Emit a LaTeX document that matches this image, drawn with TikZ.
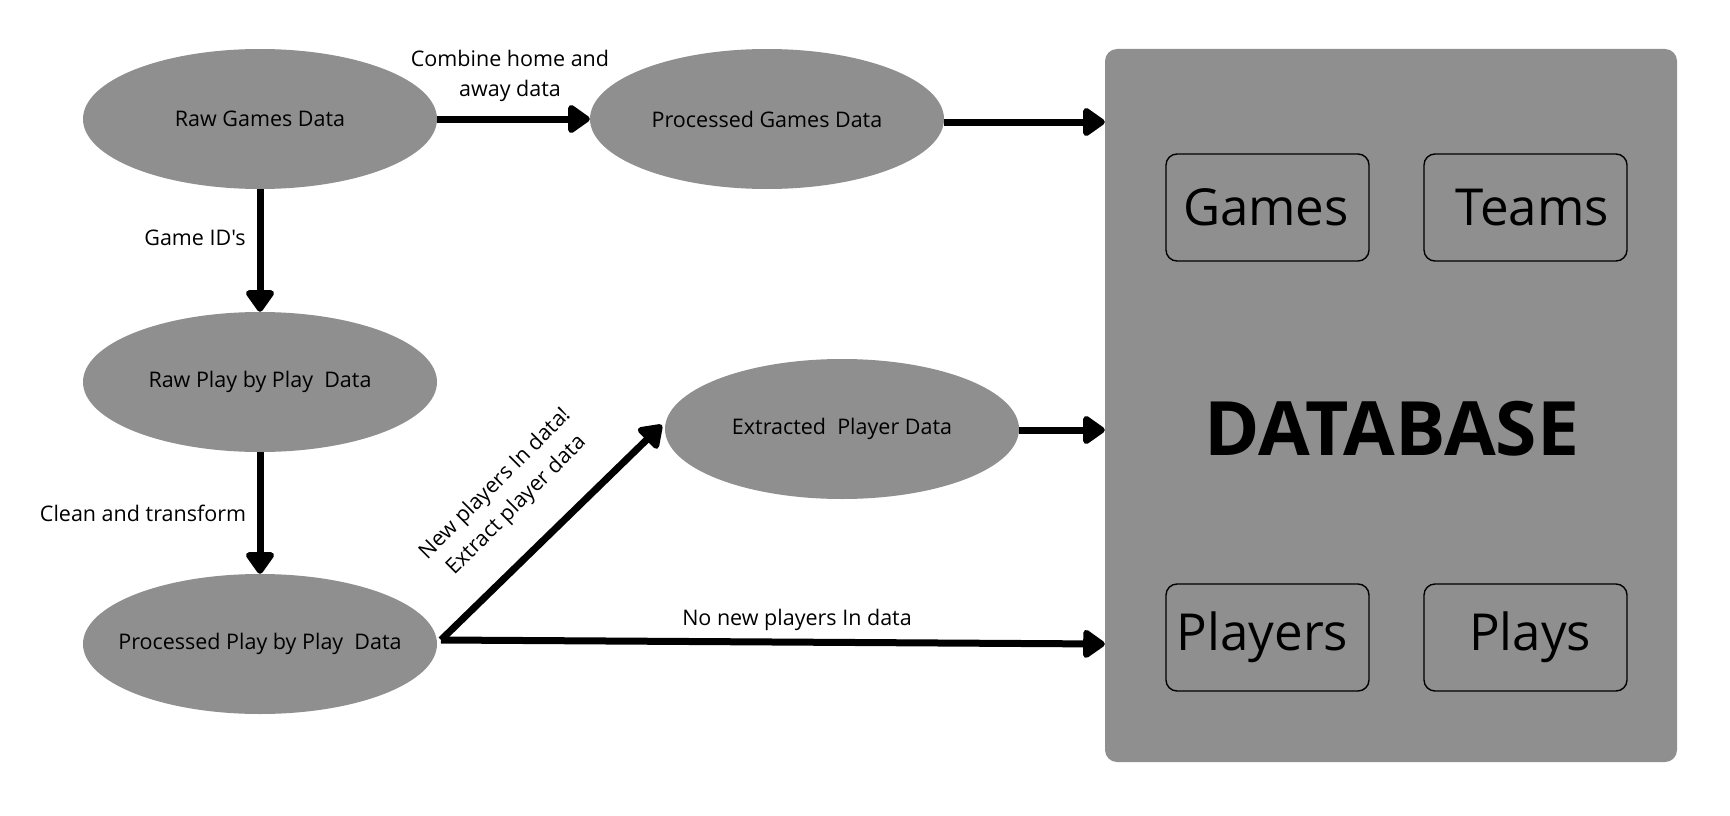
\documentclass[tikz,border=0pt]{standalone}
\usepackage{fontspec}
\setmainfont{Open Sans}[Ligatures=TeXOff]
\usetikzlibrary{shapes.geometric,arrows.meta,calc}
\definecolor{fillgray}{HTML}{8F8F8F}
\begin{document}
\begin{tikzpicture}[x=1pt,y=-1pt,
  blob/.style={ellipse,fill=fillgray,minimum width=354pt,minimum height=140pt,inner sep=0pt,font=\fontsize{21.5}{25}\selectfont},
  tbl/.style={draw=black,line width=1.4pt,rounded corners=11pt,minimum width=203pt,minimum height=107pt,inner sep=0pt,font=\fontsize{51}{55}\selectfont},
  flow/.style={line width=7pt,-{Triangle[length=24pt,width=32pt,round]}},
  lbl/.style={font=\fontsize{21.5}{30}\selectfont,align=center,inner sep=0pt}]
\useasboundingbox (0,0) rectangle (1730,816);
% database panel
\node[fill=fillgray,rounded corners=12pt,minimum width=572pt,minimum height=713pt,inner sep=0pt] (db) at (1391,405.5) {};
\node[font=\bfseries\fontsize{75}{80}\selectfont,inner sep=0pt] (dbt) at (1392,429) {DATABASE};
\node[tbl] (games) at (1267.5,207.5) {\makebox[0pt]{\hspace{-3pt}Games}};
\node[tbl] (teams) at (1525.5,207.5) {\makebox[0pt]{\hspace{13.5pt}Teams}};
\node[tbl] (players) at (1267.5,637.5) {\makebox[0pt]{\hspace{-10pt}Players}};
\node[tbl] (plays) at (1525.5,637.5) {\makebox[0pt]{\hspace{9.5pt}Plays}};
% process ellipses
\node[blob] (rg) at (260,119) {\makebox[0pt]{Raw Games Data}};
\node[blob] (pg) at (767,119) {\makebox[0pt]{Processed Games Data}};
\node[blob] (rp) at (260,382) {\makebox[0pt]{Raw Play by Play\ \ Data}};
\node[blob] (pp) at (260,644) {\makebox[0pt]{Processed Play by Play\ \ Data}};
\node[blob] (ex) at (842,429) {\makebox[0pt]{Extracted\ \ Player Data}};
% connector anchors
\coordinate (br) at (441,640);
\coordinate (dbg) at (db.west |- 0,122);
\coordinate (dbe) at (db.west |- 0,430);
\coordinate (dbp) at (db.west |- 0,644);
\coordinate (pgo) at (pg.east |- 0,122);
\coordinate (exo) at (ex.east |- 0,430);
\coordinate (exi) at ($(ex.west)+(-3,-4)$);
% connectors
\draw[flow] (rg.east) -- (pg.west);
\draw[flow] (pgo) -- (dbg);
\draw[flow] (rg.south) -- (rp.north);
\draw[flow] (rp.south) -- (pp.north);
\draw[flow] (exo) -- (dbe);
\draw[flow] (br) -- (exi);
\draw[flow] (br) -- (dbp);
% labels
\node[lbl] (l1) at (510,76) {Combine home and\\away data};
\node[lbl] (l2) at (195,238) {Game ID's};
\node[lbl] (l3) at (143,513) {Clean and transform};
\node[lbl] (l4) at (797,620) {No new players In data};
\node[lbl,rotate=45] (l5) at (506,495) {New players In data!\\Extract player data};
\end{tikzpicture}
\end{document}
